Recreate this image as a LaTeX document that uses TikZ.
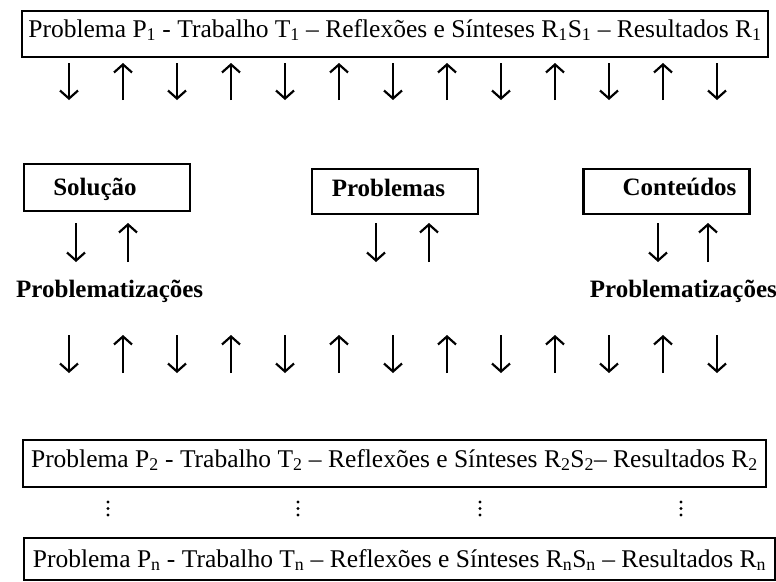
\documentclass[tikz,border=0pt]{standalone}
\usepackage{xcolor}
\usepackage{fontspec}
\setmainfont{Liberation Serif}
\usetikzlibrary{arrows.meta}

\begin{document}
\begin{tikzpicture}[x=1pt,y=-1pt,
    linha/.style={draw, line width=2.4pt, inner sep=0pt, text height=17pt, font=\fontsize{25.5}{28}\selectfont},
    caixa/.style={draw, line width=2.4pt, inner sep=0pt, minimum width=166pt, text height=16pt, font=\bfseries\fontsize{25}{28}\selectfont},
    rotulo/.style={inner sep=0pt, font=\bfseries\fontsize{25}{28}\selectfont},
    seta/.style={line width=2.2pt, -{Straight Barb[length=8pt,width=18pt]}}]
    \useasboundingbox (0,0) rectangle (776,581);

    \node[linha, minimum width=746pt, minimum height=46pt, text depth=11pt] (p1) at (395,34) {Problema P\textsubscript{1} - Trabalho T\textsubscript{1} – Reflexões e Sínteses R\textsubscript{1}S\textsubscript{1} – Resultados R\textsubscript{1}};

    \foreach \i in {0,...,12} {
        \pgfmathsetmacro\xx{69+54*\i}
        \ifodd\i \draw[seta] (\xx,100) -- (\xx,63); \else \draw[seta] (\xx,63) -- (\xx,100); \fi
    }

    \node[caixa, minimum height=47pt, text depth=0pt] (sol) at (107,187.5) {Solução\hspace*{24pt}};
    \node[caixa, minimum height=45pt, text depth=7pt] (prob) at (395,191.5) {Problemas\hspace*{13pt}};
    \node[caixa, minimum height=45pt, text depth=8pt] (cont) at (666.5,191.5) {\hspace*{26pt}Conteúdos};

    \foreach \x in {76,376,658} \draw[seta] (\x,223) -- (\x,262);
    \foreach \x in {128,429,708} \draw[seta] (\x,262) -- (\x,223);

    \node[rotulo, anchor=base west] (pz1) at (16,297) {Problematizações};
    \node[rotulo, anchor=base east] (pz2) at (777,297) {Problematizações};

    \foreach \i in {0,...,12} {
        \pgfmathsetmacro\xx{69+54*\i}
        \ifodd\i \draw[seta] (\xx,373) -- (\xx,335); \else \draw[seta] (\xx,335) -- (\xx,373); \fi
    }

    \node[linha, minimum width=743pt, minimum height=47pt, text depth=10pt] (p2) at (394.5,463.5) {Problema P\textsubscript{2} - Trabalho T\textsubscript{2} – Reflexões e Sínteses R\textsubscript{2}S\textsubscript{2}– Resultados R\textsubscript{2}};

    \foreach \x in {108,298,480,681}
        \foreach \y in {502,508.5,515} \fill (\x,\y) circle (1.6pt);

    \node[linha, minimum width=751pt, minimum height=42pt, text depth=1pt] (pn) at (399.5,559) {Problema P\textsubscript{n} - Trabalho T\textsubscript{n} – Reflexões e Sínteses R\textsubscript{n}S\textsubscript{n} – Resultados R\textsubscript{n}};
\end{tikzpicture}
\end{document}
